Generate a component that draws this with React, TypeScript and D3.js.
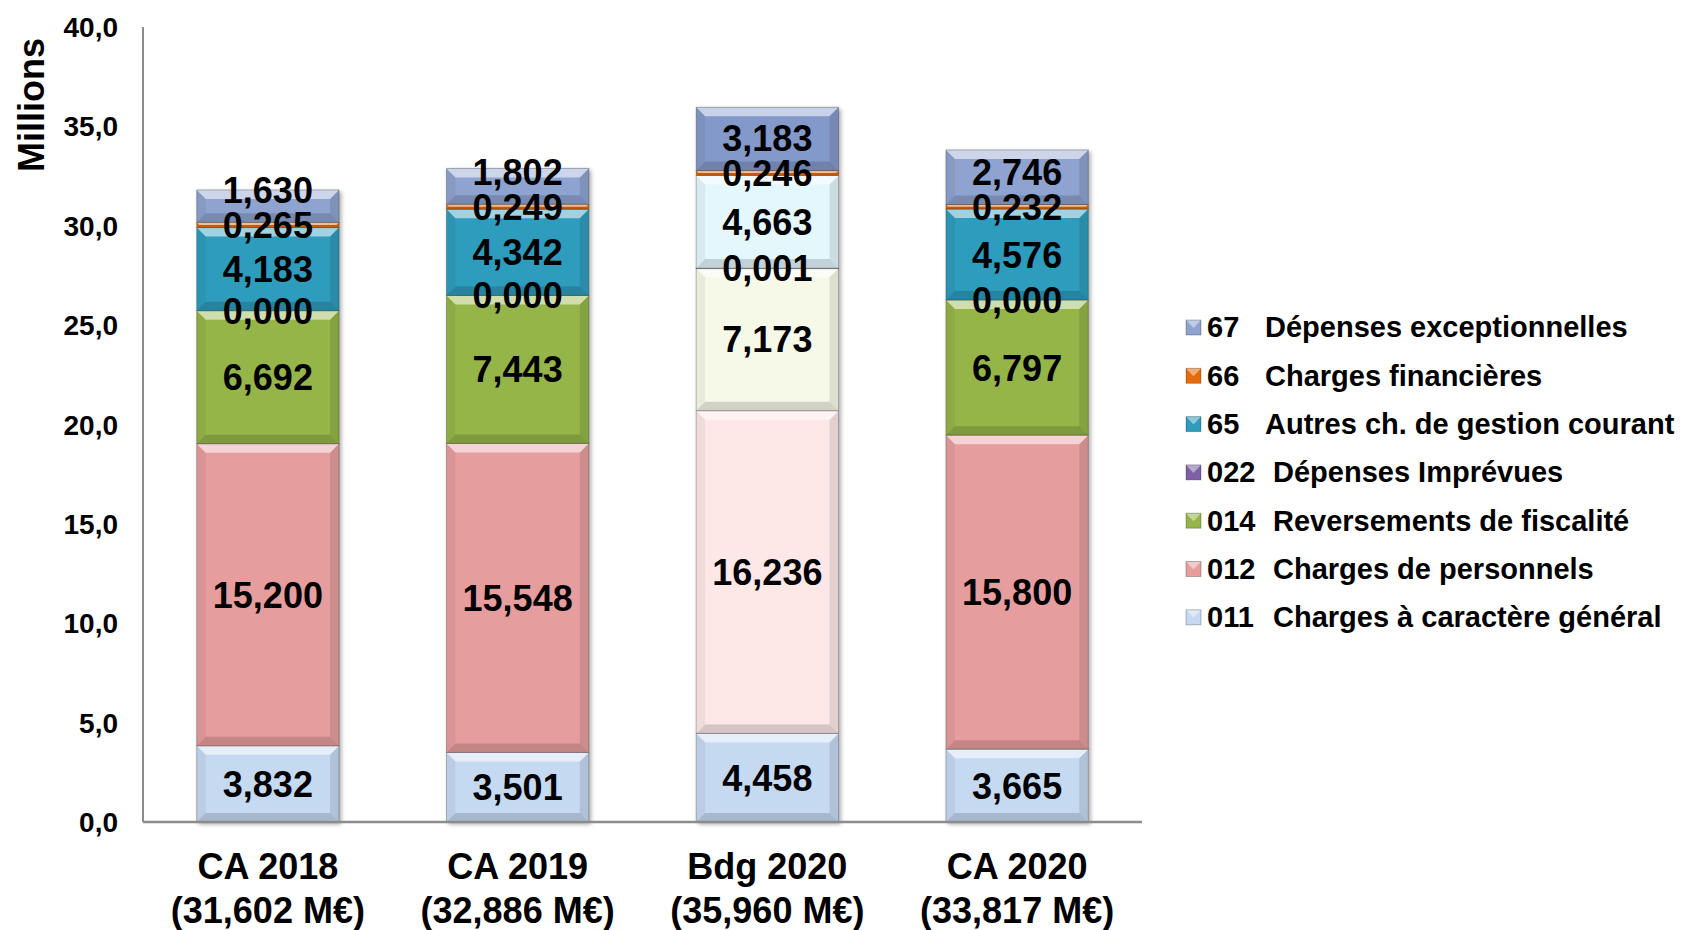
import { useEffect, useRef } from "react"
import * as d3 from "d3"

const categories = ["CA 2018", "CA 2019", "Bdg 2020", "CA 2020"]
const totalLabels = ["(31,602 M€)", "(32,886 M€)", "(35,960 M€)", "(33,817 M€)"]

// stack order, bottom to top
const seriesCodes = ["011", "012", "014", "022", "65", "66", "67"]
const seriesNames = [
    "Charges à caractère général",
    "Charges de personnels",
    "Reversements de fiscalité",
    "Dépenses Imprévues",
    "Autres ch. de gestion courant",
    "Charges financières",
    "Dépenses exceptionnelles",
]
const v011 = [3.832, 3.501, 4.458, 3.665]
const v012 = [15.2, 15.548, 16.236, 15.8]
const v014 = [6.692, 7.443, 7.173, 6.797]
const v022 = [0.0, 0.0, 0.001, 0.0]
const v65 = [4.183, 4.342, 4.663, 4.576]
const v66 = [0.265, 0.249, 0.246, 0.232]
const v67 = [1.63, 1.802, 3.183, 2.746]
const seriesValues = [v011, v012, v014, v022, v65, v66, v67]

const yTicks = [0, 5, 10, 15, 20, 25, 30, 35, 40]

// normal colours, and the pale ones used for the budget column
const colors = ["#c5d9f1", "#e59e9d", "#95b548", "#7d60a5", "#2f9cbc", "#e46c0a", "#8ea3cf"]
const paleColors = ["#c5d9f1", "#fde7e7", "#f6f9e8", "#7d60a5", "#e4f7fc", "#e46c0a", "#8399c9"]

export default function App() {
    const chart = useRef<SVGSVGElement>(null)
    const width = 1684
    const height = 930

    useEffect(() => {
        const svg = d3.select(chart.current)
        svg.selectAll("*").remove()
        svg.attr("width", width).attr("height", height)

        const font = "'Liberation Sans', Arial, Helvetica, sans-serif"

        const rows = categories.map((c, i) => {
            const r: any = { cat: c }
            seriesCodes.forEach((s, k) => { r[s] = seriesValues[k][i] })
            return r
        })
        const stacked = d3.stack().keys(seriesCodes)(rows)

        const x = d3.scaleBand().domain(categories).range([143, 1142]).paddingInner(0.43).paddingOuter(0.215)
        const y = d3.scaleLinear().domain([0, 40]).range([822, 27])
        const fmt1 = (v: number) => d3.format(".1f")(v).replace(".", ",")
        const fmt3 = (v: number) => d3.format(".3f")(v).replace(".", ",")

        const defs = svg.append("defs")
        const f = defs.append("filter").attr("id", "shadow").attr("x", "-10%").attr("y", "-10%").attr("width", "130%").attr("height", "130%")
        f.append("feDropShadow").attr("dx", 2).attr("dy", 2).attr("stdDeviation", 2).attr("flood-color", "#000").attr("flood-opacity", 0.35)

        // axes
        svg.append("line").attr("x1", 143).attr("x2", 143).attr("y1", y(40)).attr("y2", y(0))
            .attr("stroke", "#8c8c8c").attr("stroke-width", 2)

        svg.append("g").selectAll("text").data(yTicks).enter().append("text")
            .attr("x", 118).attr("y", d => y(d)).attr("dy", "0.36em")
            .attr("text-anchor", "end").attr("font-family", font).attr("font-weight", "bold")
            .attr("font-size", 28).text(d => fmt1(d))

        svg.append("text").attr("transform", "translate(44,105) rotate(-90)")
            .attr("text-anchor", "middle").attr("font-family", font).attr("font-weight", "bold")
            .attr("font-size", 36).text("Millions")

        // bars
        const bw = x.bandwidth()
        categories.forEach((c, i) => {
            const g = svg.append("g").attr("filter", "url(#shadow)")
            const x0 = x(c) as number
            stacked.forEach((layer, k) => {
                const [a, b] = layer[i]
                if (b - a <= 0) return
                const top = y(b)
                const h = Math.max(y(a) - y(b), 0.6)
                const fill = i === 2 ? paleColors[k] : colors[k]
                const d = Math.min(9, h / 2)
                const seg = g.append("g")
                seg.append("rect").attr("x", x0).attr("y", top).attr("width", bw).attr("height", h)
                    .attr("fill", fill)
                const poly = (pts: number[][], col: string, op: number) =>
                    seg.append("polygon").attr("points", pts.map(p => p.join(",")).join(" "))
                        .attr("fill", col).attr("opacity", op)
                poly([[x0, top], [x0 + bw, top], [x0 + bw - d, top + d], [x0 + d, top + d]], "#fff", 0.55)
                poly([[x0, top + h], [x0 + bw, top + h], [x0 + bw - d, top + h - d], [x0 + d, top + h - d]], "#000", 0.15)
                poly([[x0, top], [x0 + d, top + d], [x0 + d, top + h - d], [x0, top + h]], "#000", 0.05)
                poly([[x0 + bw, top], [x0 + bw - d, top + d], [x0 + bw - d, top + h - d], [x0 + bw, top + h]], "#000", 0.1)
                seg.append("rect").attr("x", x0).attr("y", top).attr("width", bw).attr("height", h)
                    .attr("fill", "none").attr("stroke", "rgba(0,0,0,0.25)").attr("stroke-width", 1)
            })
        })

        // value labels, pushed up when they would collide
        categories.forEach((c, i) => {
            let prev = Infinity
            stacked.forEach(layer => {
                const [a, b] = layer[i]
                const ly = Math.min(y((a + b) / 2), prev - 35)
                prev = ly
                svg.append("text").attr("x", (x(c) as number) + bw / 2).attr("y", ly).attr("dy", "0.36em")
                    .attr("text-anchor", "middle").attr("font-family", font).attr("font-weight", "bold")
                    .attr("font-size", 36).attr("fill", "#000").text(fmt3(b - a))
            })
        })

        svg.append("line").attr("x1", 143).attr("x2", 1142).attr("y1", y(0)).attr("y2", y(0))
            .attr("stroke", "#8c8c8c").attr("stroke-width", 2.5)

        // category labels
        const cl = svg.append("g")
        categories.forEach((c, i) => {
            const cx = (x(c) as number) + bw / 2
            cl.append("text").attr("x", cx).attr("y", 866).attr("dy", "0.36em").attr("text-anchor", "middle")
                .attr("font-family", font).attr("font-weight", "bold").attr("font-size", 36).text(c)
            cl.append("text").attr("x", cx).attr("y", 910).attr("dy", "0.36em").attr("text-anchor", "middle")
                .attr("font-family", font).attr("font-weight", "bold").attr("font-size", 36).text(totalLabels[i])
        })

        // legend, top series first
        const lg = svg.append("g")
        const order = d3.range(seriesCodes.length).reverse()
        order.forEach((k, j) => {
            const cy = 327 + j * 48.3
            const m = lg.append("g")
            m.append("rect").attr("x", 1186).attr("y", cy - 7).attr("width", 15).attr("height", 15).attr("fill", colors[k])
            m.append("polygon").attr("points", `1186,${cy - 7} 1201,${cy - 7} 1193.5,${cy + 1}`).attr("fill", "#fff").attr("opacity", 0.45)
            m.append("rect").attr("x", 1186).attr("y", cy - 7).attr("width", 15).attr("height", 15)
                .attr("fill", "none").attr("stroke", "rgba(0,0,0,0.25)").attr("stroke-width", 1)
            lg.append("text").attr("x", 1207).attr("y", cy).attr("dy", "0.36em")
                .attr("font-family", font).attr("font-weight", "bold").attr("font-size", 29).text(seriesCodes[k])
            lg.append("text").attr("x", seriesCodes[k].length === 3 ? 1273 : 1265).attr("y", cy).attr("dy", "0.36em")
                .attr("font-family", font).attr("font-weight", "bold").attr("font-size", 29).text(seriesNames[k])
        })
    }, [])

    return (
        <div id="chartArea">
            <svg ref={chart} style={{ position: "absolute", left: 0, top: 0 }}></svg>
        </div>
    )
}
